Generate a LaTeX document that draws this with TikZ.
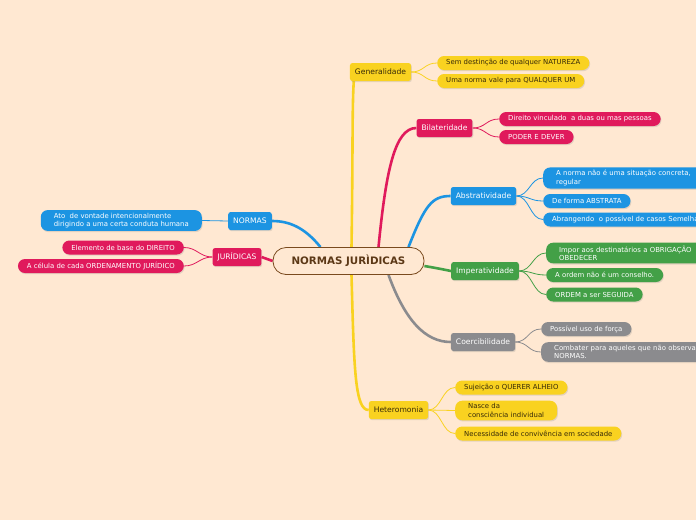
\documentclass[tikz,border=0pt]{standalone}
\usepackage{fontspec}
\setmainfont{DejaVu Sans}
\usetikzlibrary{positioning,shadows}
\definecolor{bgpeach}{RGB}{255,232,210}
\definecolor{mapyellow}{RGB}{249,210,32}
\definecolor{mappink}{RGB}{224,26,92}
\definecolor{mapblue}{RGB}{28,148,226}
\definecolor{mapgreen}{RGB}{67,160,71}
\definecolor{mapgray}{RGB}{139,139,142}
\definecolor{mapbrown}{RGB}{122,74,30}
\definecolor{darktext}{RGB}{55,42,8}
\pgfdeclarelayer{paper}
\pgfdeclarelayer{wires}
\pgfsetlayers{paper,wires,main}
\tikzset{
  hub/.style={
    draw=mapbrown,
    line width=0.8pt,
    fill=bgpeach,
    rounded corners=13pt,
    minimum width=151pt,
    minimum height=27pt,
    text=mapbrown!75!black,
    font=\bfseries\fontsize{10.3}{12}\selectfont
  },
  topic/.style={
    rounded corners=2.5pt,
    minimum height=18pt,
    inner xsep=5pt,
    inner ysep=0pt,
    text=white,
    font=\fontsize{7.6}{9}\selectfont,
    drop shadow={opacity=0.22, shadow xshift=0.8pt, shadow yshift=-1.2pt}
  },
  leaf/.style={
    rounded corners=7pt,
    minimum height=14pt,
    inner xsep=9pt,
    inner ysep=1.5pt,
    align=left,
    text=white,
    font=\fontsize{6.9}{8.2}\selectfont,
    drop shadow={opacity=0.22, shadow xshift=0.8pt, shadow yshift=-1.2pt}
  },
  twoline/.style={inner xsep=13pt, inner ysep=3pt},
  cut/.style={text width=240pt},
  trunk/.style={line width=2.6pt},
  twig/.style={line width=0.8pt}
}
\begin{document}
\begin{tikzpicture}[x=1pt,y=-1pt]
\useasboundingbox (0,0) rectangle (696,520);
\begin{pgfonlayer}{paper}
  \fill[bgpeach] (0,0) rectangle (696,520);
\end{pgfonlayer}
\clip (0,0) rectangle (696,520);

% centre and main topics
\node[hub] (hub) at (348.5,261) {NORMAS JURÌDICAS};
\node[topic, fill=mapyellow, text=darktext] (gen) at (380.5,72) {Generalidade};
\node[topic, fill=mappink] (bil) at (444.5,128) {Bilateridade};
\node[topic, fill=mapblue] (abs) at (483.5,196) {Abstratividade};
\node[topic, fill=mapgreen] (imp) at (485,271) {Imperatividade};
\node[topic, fill=mapgray] (coe) at (483,342) {Coercibilidade};
\node[topic, fill=mapyellow, text=darktext] (het) at (398.5,410) {Heteromonia};
\node[topic, fill=mapblue] (nor) at (250,221) {NORMAS};
\node[topic, fill=mappink] (jur) at (237,257) {JURÍDICAS};

% leaves
\node[leaf, fill=mapyellow, text=darktext, anchor=west] (gen1) at (437,63) {Sem destinção de qualquer NATUREZA};
\node[leaf, fill=mapyellow, text=darktext, anchor=west] (gen2) at (437,81) {Uma norma vale para QUALQUER UM};
\node[leaf, fill=mappink, anchor=west] (bil1) at (499,119) {Direito vinculado~ a duas ou mas pessoas};
\node[leaf, fill=mappink, anchor=west] (bil2) at (499,137) {PODER E DEVER};
\node[leaf, twoline, cut, fill=mapblue, anchor=west] (abs1) at (543,178) {A norma não é uma situação concreta,\\regular};
\node[leaf, fill=mapblue, anchor=west] (abs2) at (543,201) {De forma ABSTRATA};
\node[leaf, cut, fill=mapblue, anchor=west] (abs3) at (543,219.5) {Abrangendo~ o possível de casos Semelhantes};
\node[leaf, twoline, cut, fill=mapgreen, anchor=west] (imp1) at (546,253) {Impor aos destinatários a OBRIGAÇÃO\\OBEDECER};
\node[leaf, fill=mapgreen, anchor=west] (imp2) at (546,275) {A ordem não é um conselho.};
\node[leaf, fill=mapgreen, anchor=west] (imp3) at (546,294.5) {ORDEM a ser SEGUIDA};
\node[leaf, fill=mapgray, anchor=west] (coe1) at (541,329) {Possível uso de força};
\node[leaf, twoline, cut, fill=mapgray, anchor=west] (coe2) at (541,352) {Combater para aqueles que não observam\\NORMAS.};
\node[leaf, fill=mapyellow, text=darktext, anchor=west] (het1) at (455,387.5) {Sujeição o QUERER ALHEIO};
\node[leaf, twoline, fill=mapyellow, text=darktext, anchor=west] (het2) at (455,410.5) {Nasce da\\consciência individual};
\node[leaf, fill=mapyellow, text=darktext, anchor=west] (het3) at (455,433.5) {Necessidade de convivência em sociedade};
\node[leaf, twoline, fill=mapblue, anchor=east] (nor1) at (202,220.5) {Ato~ de vontade intencionalmente\\dirigindo a uma certa conduta humana};
\node[leaf, fill=mappink, anchor=east] (jur1) at (184,247.5) {Elemento de base do DIREITO};
\node[leaf, fill=mappink, anchor=east] (jur2) at (184,266) {A célula de cada ORDENAMENTO JURÍDICO};

\begin{pgfonlayer}{wires}
  % trunks from the centre
  \draw[trunk, mapyellow] ([xshift=3pt]hub.north) .. controls (353,150) and (352,110) .. ([xshift=4pt]gen.south west);
  \draw[trunk, mapyellow] ([xshift=3pt]hub.south) .. controls (354,370) and (355,410) .. (het.west);
  \draw[trunk, mappink] ([xshift=30pt]hub.north) .. controls (386,170) and (395,128) .. (bil.west);
  \draw[trunk, mapblue] ([xshift=60pt]hub.north) .. controls (425,205) and (432,196) .. (abs.west);
  \draw[trunk, mapgreen] ([yshift=-5pt]hub.east) .. controls (436,268) .. (imp.west);
  \draw[trunk, mapgray] ([xshift=40pt]hub.south) .. controls (405,320) and (425,342) .. (coe.west);
  \draw[trunk, mapblue] ([xshift=-28pt]hub.north) .. controls (305,228) and (290,221) .. (nor.east);
  \draw[trunk, mappink] (hub.west) -- (jur.east);
  % twigs to the leaves
  \foreach \l in {gen1,gen2}
    \draw[twig, mapyellow] (gen.east) .. controls +(13,0) and +(-13,0) .. (\l.west);
  \foreach \l in {bil1,bil2}
    \draw[twig, mappink] (bil.east) .. controls +(13,0) and +(-13,0) .. (\l.west);
  \foreach \l in {abs1,abs2,abs3}
    \draw[twig, mapblue] (abs.east) .. controls +(13,0) and +(-13,0) .. (\l.west);
  \foreach \l in {imp1,imp2,imp3}
    \draw[twig, mapgreen] (imp.east) .. controls +(13,0) and +(-13,0) .. (\l.west);
  \foreach \l in {coe1,coe2}
    \draw[twig, mapgray] (coe.east) .. controls +(13,0) and +(-13,0) .. (\l.west);
  \foreach \l in {het1,het2,het3}
    \draw[twig, mapyellow] (het.east) .. controls +(13,0) and +(-13,0) .. (\l.west);
  \draw[twig, mapblue] (nor.west) -- (nor1.east);
  \foreach \l in {jur1,jur2}
    \draw[twig, mappink] (jur.west) .. controls +(-13,0) and +(13,0) .. (\l.east);
\end{pgfonlayer}
\end{tikzpicture}
\end{document}
